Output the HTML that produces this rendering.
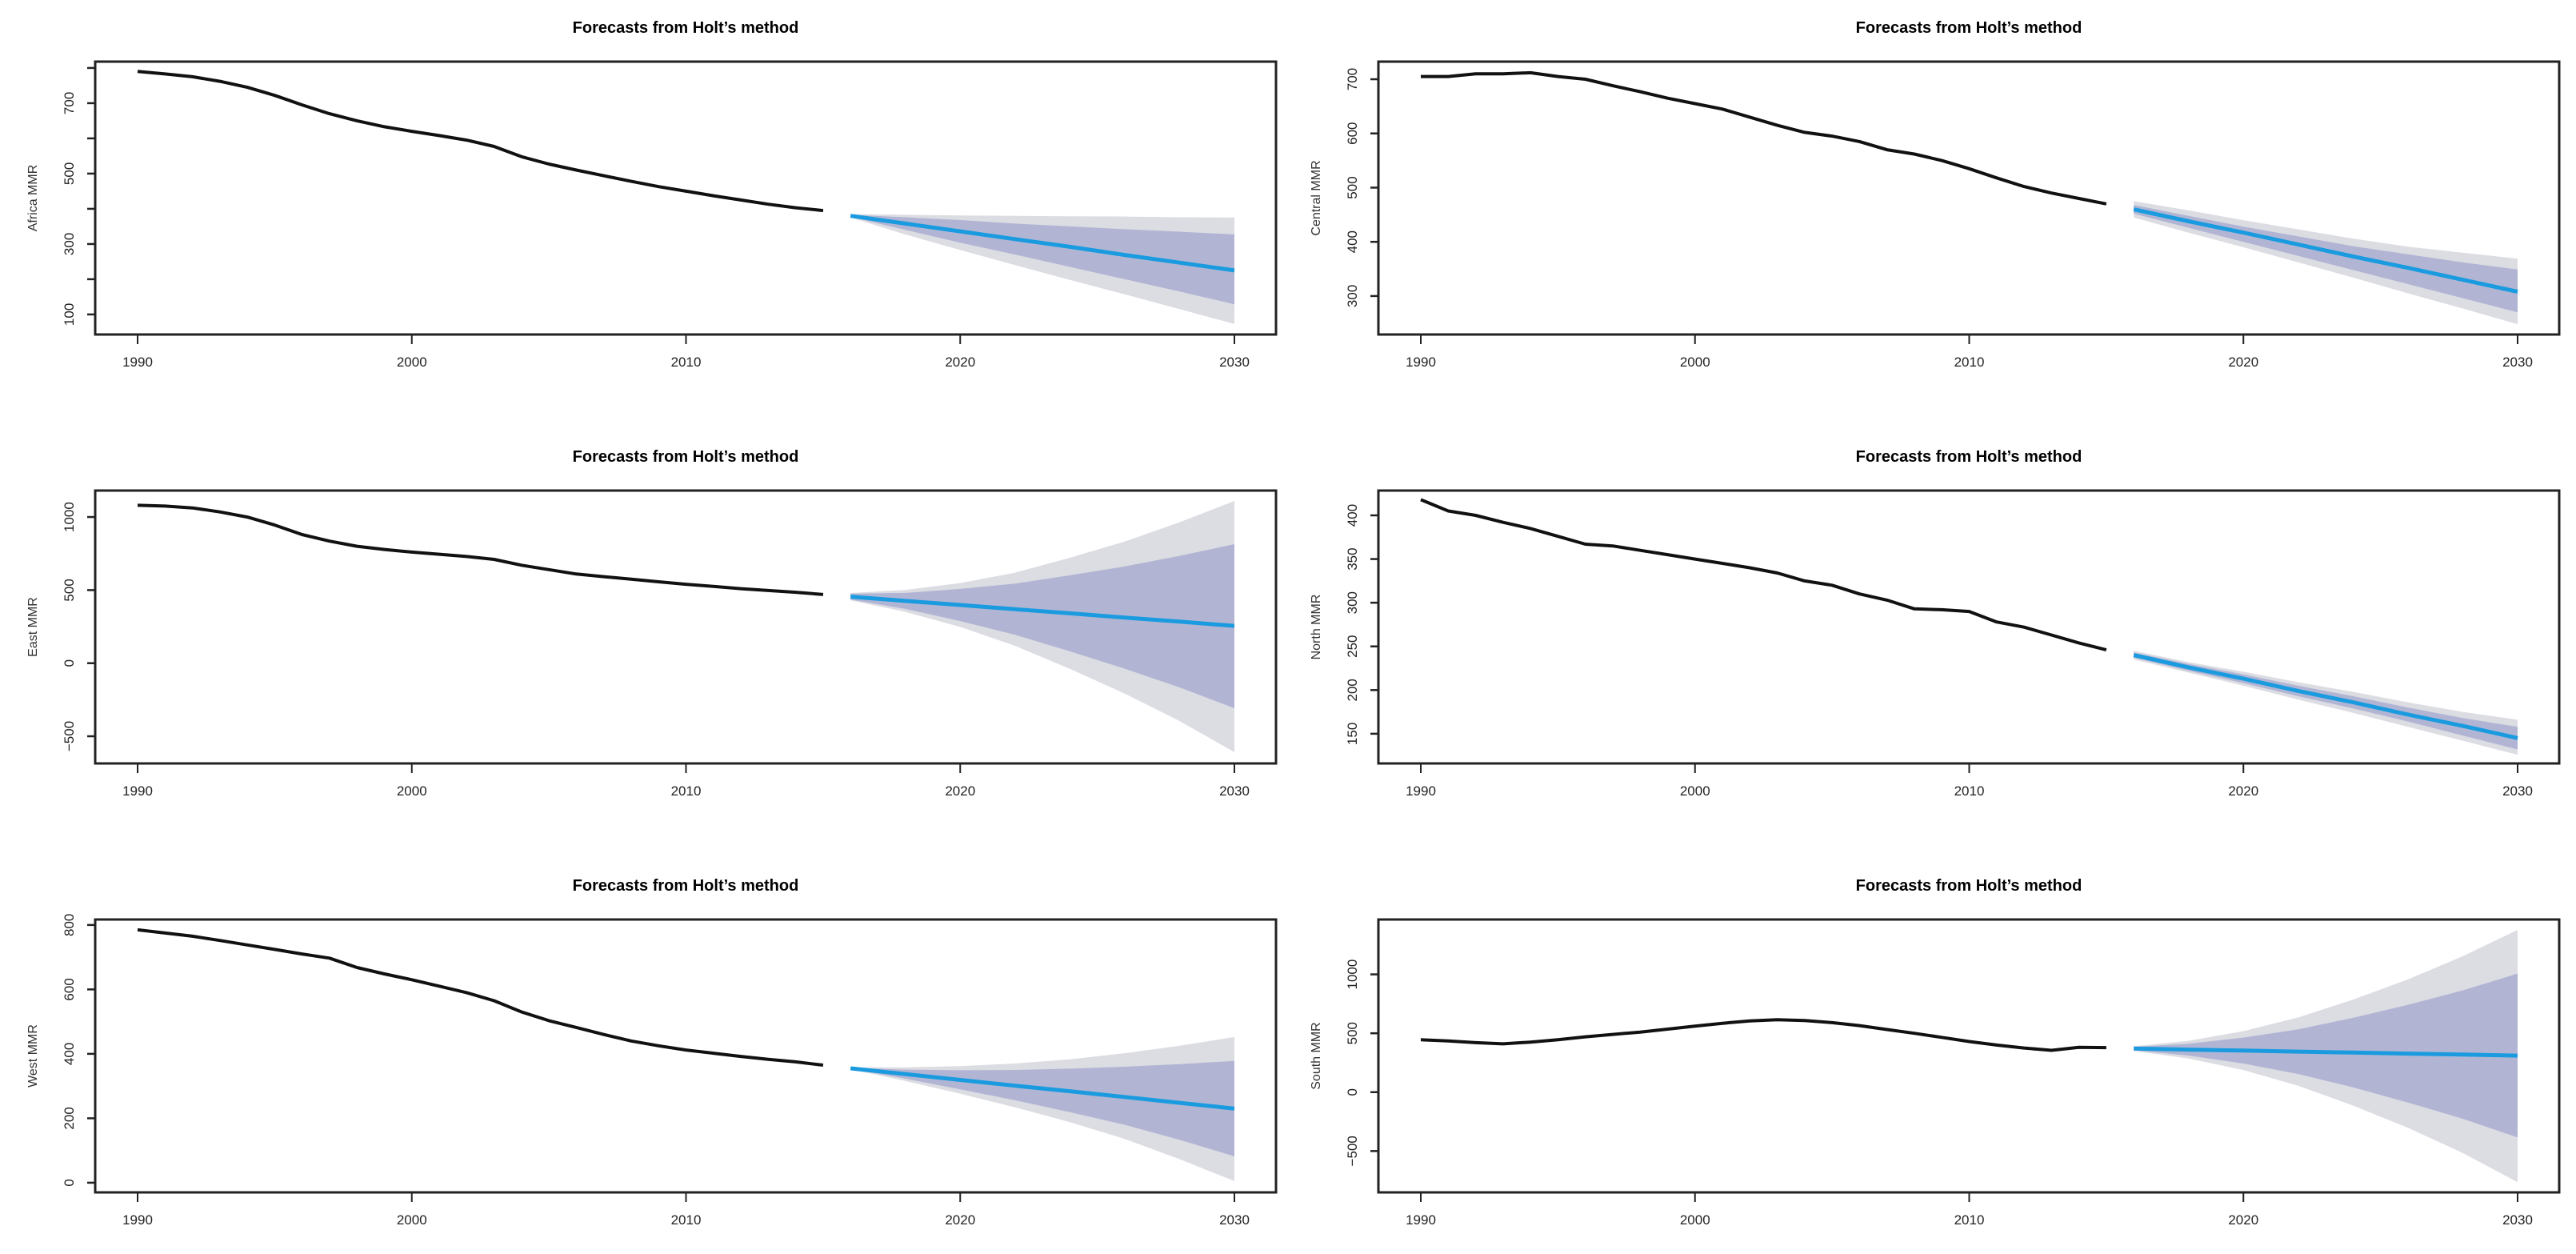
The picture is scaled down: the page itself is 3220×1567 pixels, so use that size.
<!DOCTYPE html>
<html><head><meta charset="utf-8"><style>
html,body{margin:0;padding:0;background:#fff;}
svg{display:block;}
text{font-family:"Liberation Sans Narrow","Liberation Sans",sans-serif;}
</style></head><body>
<svg id="chart" width="3220" height="1567" viewBox="0 0 3220 1567" xmlns="http://www.w3.org/2000/svg"></svg>
<script>
const histYears = [1990,1991,1992,1993,1994,1995,1996,1997,1998,1999,2000,2001,2002,2003,2004,2005,2006,2007,2008,2009,2010,2011,2012,2013,2014,2015];
const fcYears = [2016,2018,2020,2022,2024,2026,2028,2030];
const xTicks = [1990,2000,2010,2020,2030];

const africaHist = [790,783,775,762,745,722,695,670,650,633,620,608,595,577,548,527,510,494,478,463,450,437,425,413,403,395];
const africaMean = [380,358,336,314,292,269,247,225];
const africaHi80 = [383,376,368,358,350,342,335,327];
const africaLo80 = [377,340,304,270,235,200,165,129];
const africaHi95 = [385,383,381,380,379,378,376,375];
const africaLo95 = [375,327,283,240,198,157,115,73];
const africaTicks = [100,200,300,400,500,600,700,800];
const africaLabels = ["100","","300","","500","","700",""];

const centralHist = [705,705,710,710,712,705,700,688,677,665,655,645,630,615,602,595,585,570,562,550,535,518,502,490,480,470];
const centralMean = [460,438,417,395,373,352,330,308];
const centralHi80 = [468,448,428,410,392,377,362,349];
const centralLo80 = [452,426,400,374,348,322,296,270];
const centralHi95 = [475,458,440,423,406,391,380,369];
const centralLo95 = [445,417,390,362,334,305,277,248];
const centralTicks = [300,400,500,600,700];
const centralLabels = ["300","400","500","600","700"];

const eastHist = [1080,1075,1062,1035,1000,945,880,835,800,778,760,745,730,710,670,640,610,592,575,557,540,525,510,497,485,470];
const eastMean = [455,426,398,369,341,312,284,255];
const eastHi80 = [475,481,508,544,601,662,734,814];
const eastLo80 = [435,371,288,194,81,-38,-166,-308];
const eastHi95 = [480,501,548,619,721,832,964,1110];
const eastLo95 = [430,351,248,119,-39,-208,-396,-609];
const eastTicks = [-500,0,500,1000];
const eastLabels = ["\u2212500","0","500","1000"];

const northHist = [418,405,400,392,385,376,367,365,360,355,350,345,340,334,325,320,310,303,293,292,290,278,272,263,254,246];
const northMean = [240,226,213,199,186,172,159,145];
const northHi80 = [243,230,218,205,193,180,168,158];
const northLo80 = [237,222,208,193,179,164,148,132];
const northHi95 = [245,232,221,209,198,186,175,166];
const northLo95 = [235,220,205,189,174,158,142,126];
const northTicks = [150,200,250,300,350,400];
const northLabels = ["150","200","250","300","350","400"];

const westHist = [785,775,765,752,738,724,710,697,668,648,630,610,590,565,530,503,482,460,440,425,412,402,392,383,375,365];
const westMean = [355,337,319,301,284,266,248,230];
const westHi80 = [357,351,349,350,354,360,368,378];
const westLo80 = [353,323,290,256,219,180,133,82];
const westHi95 = [358,358,362,370,383,402,425,452];
const westLo95 = [352,316,276,234,188,136,73,5];
const westTicks = [0,200,400,600,800];
const westLabels = ["0","200","400","600","800"];

const southHist = [445,435,420,410,425,445,470,490,510,535,560,585,605,615,608,590,565,532,500,465,430,400,375,355,380,378];
const southMean = [370,361,353,344,336,327,319,310];
const southHi80 = [385,411,463,534,631,742,864,1007];
const southLo80 = [355,311,243,154,41,-88,-226,-385];
const southHi95 = [390,436,518,634,786,957,1154,1378];
const southLo95 = [350,286,188,54,-114,-303,-516,-764];
const southTicks = [-500,0,500,1000];
const southLabels = ["\u2212500","0","500","1000"];

const NS = "http://www.w3.org/2000/svg";
const svg = document.getElementById('chart');
function mk(tag, attrs, parent){
  const e = document.createElementNS(NS, tag);
  for (const k in attrs) e.setAttribute(k, attrs[k]);
  (parent||svg).appendChild(e);
  return e;
}

const panels = [
  {key:'africa', lab:'Africa MMR', col:0,row:0, ymin:43, ymax:818, hist:africaHist, mean:africaMean, hi80:africaHi80, lo80:africaLo80, hi95:africaHi95, lo95:africaLo95, ticks:africaTicks, labels:africaLabels},
  {key:'central', lab:'Central MMR', col:1,row:0, ymin:229, ymax:732.5, hist:centralHist, mean:centralMean, hi80:centralHi80, lo80:centralLo80, hi95:centralHi95, lo95:centralLo95, ticks:centralTicks, labels:centralLabels},
  {key:'east', lab:'East MMR', col:0,row:1, ymin:-686, ymax:1181, hist:eastHist, mean:eastMean, hi80:eastHi80, lo80:eastLo80, hi95:eastHi95, lo95:eastLo95, ticks:eastTicks, labels:eastLabels},
  {key:'north', lab:'North MMR', col:1,row:1, ymin:116, ymax:428.4, hist:northHist, mean:northMean, hi80:northHi80, lo80:northLo80, hi95:northHi95, lo95:northLo95, ticks:northTicks, labels:northLabels},
  {key:'west', lab:'West MMR', col:0,row:2, ymin:-30, ymax:817, hist:westHist, mean:westMean, hi80:westHi80, lo80:westLo80, hi95:westHi95, lo95:westLo95, ticks:westTicks, labels:westLabels},
  {key:'south', lab:'South MMR', col:1,row:2, ymin:-851, ymax:1466, hist:southHist, mean:southMean, hi80:southHi80, lo80:southLo80, hi95:southHi95, lo95:southLo95, ticks:southTicks, labels:southLabels}
];

panels.forEach(p => {
  const ox = p.col * 1604, oy = p.row * 536;
  const bl = ox + 119, br = ox + 1595, bt = oy + 77, bb = oy + 418;
  const xS = y => ox + 172 + (y - 1990) * (1543 - 172) / 40;
  const yS = v => bb - (v - p.ymin) * (bb - bt) / (p.ymax - p.ymin);
  const g = mk('g', {});
  
  

  const t = mk('text', {x: ox + 857, y: oy + 41, 'text-anchor':'middle', 'font-size':'20', 'font-weight':'bold', fill:'#000'}, g);
  t.textContent = "Forecasts from Holt\u2019s method";
  
  

  function band(hi, lo, fill, name){
    let d = '';
    fcYears.forEach((y,i)=>{ d += (i?'L':'M') + xS(y).toFixed(1) + ',' + yS(hi[i]).toFixed(1); });
    for (let i = fcYears.length-1; i >= 0; i--) d += 'L' + xS(fcYears[i]).toFixed(1) + ',' + yS(lo[i]).toFixed(1);
    const e = mk('path', {d: d + 'Z', fill: fill}, g);
    
    
  }
  band(p.hi95, p.lo95, '#dcdce3', p.key + '-band-95');
  band(p.hi80, p.lo80, '#b1b5d3', p.key + '-band-80');

  const hp = mk('polyline', {points: histYears.map((y,i)=> xS(y).toFixed(1)+','+yS(p.hist[i]).toFixed(1)).join(' '), fill:'none', stroke:'#111', 'stroke-width':'4', 'stroke-linejoin':'round'}, g);
  
  
  const fp = mk('polyline', {points: fcYears.map((y,i)=> xS(y).toFixed(1)+','+yS(p.mean[i]).toFixed(1)).join(' '), fill:'none', stroke:'#1a9be0', 'stroke-width':'5', 'stroke-linejoin':'round'}, g);
  
  

  const box = mk('rect', {x: bl, y: bt, width: br-bl, height: bb-bt, fill:'none', stroke:'#222', 'stroke-width':'3'}, g);
  
  

  xTicks.forEach(y => {
    mk('line', {x1:xS(y), x2:xS(y), y1:bb, y2:bb+12, stroke:'#222', 'stroke-width':'2'}, g);
    const l = mk('text', {x:xS(y), y:bb+40, 'text-anchor':'middle', 'font-size':'17', fill:'#222'}, g);
    l.textContent = y;
    
    
  });
  p.ticks.forEach((v,i) => {
    mk('line', {x1:bl-10, x2:bl, y1:yS(v), y2:yS(v), stroke:'#222', 'stroke-width':'2.5'}, g);
    if (p.labels[i]) {
      const l = mk('text', {x:0, y:0, transform:'translate(' + (ox+92) + ',' + yS(v).toFixed(1) + ') rotate(-90)', 'text-anchor':'middle', 'font-size':'17', fill:'#222', 'font-family':'Liberation Sans, sans-serif'}, g);
      l.textContent = p.labels[i];
      
      
    }
  });
  const yl = mk('text', {x:0, y:0, transform:'translate(' + (ox+46) + ',' + ((bt+bb)/2) + ') rotate(-90)', 'text-anchor':'middle', 'font-size':'16', fill:'#333', 'font-family':'Liberation Sans, sans-serif'}, g);
  yl.textContent = p.lab;
  
  
});
</script>
</body></html>
